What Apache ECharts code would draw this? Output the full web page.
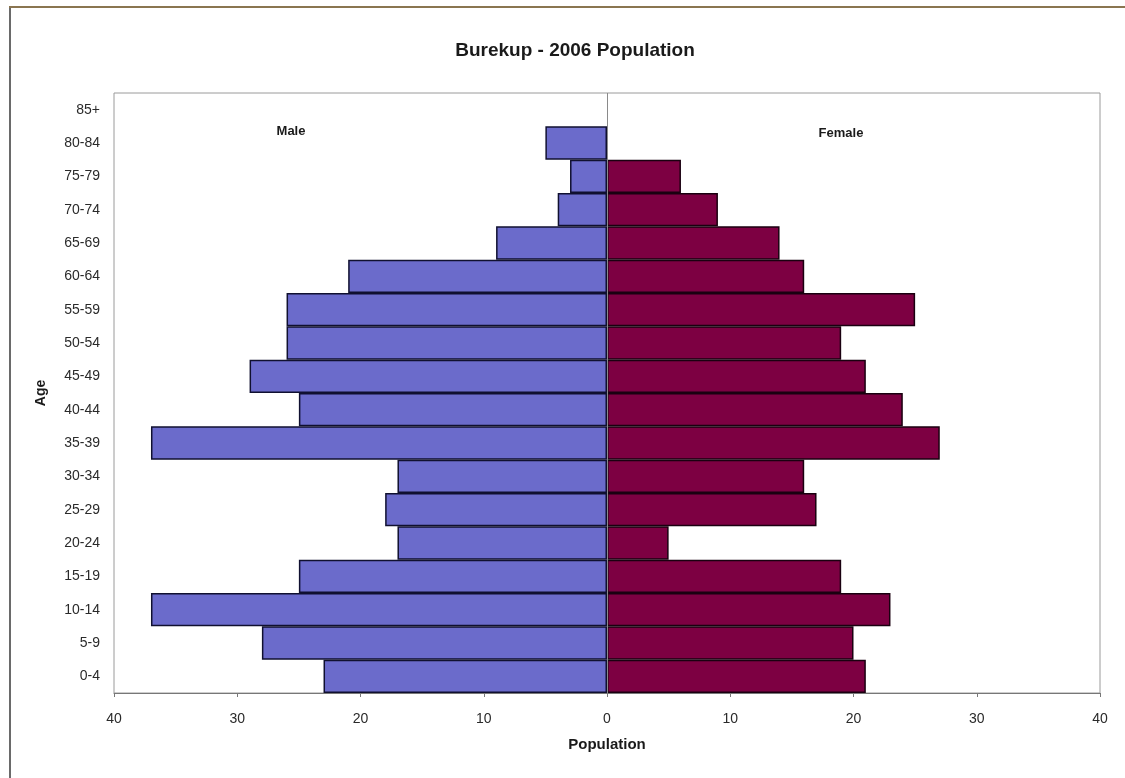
<!DOCTYPE html>
<html>
<head>
<meta charset="utf-8">
<script src="https://cdn.jsdelivr.net/npm/echarts@6/dist/echarts.min.js"></script>
<style>
  html, body { margin: 0; padding: 0; background: #ffffff; }
  #chart { width: 1125px; height: 778px; }
</style>
</head>
<body>
<div id="chart"></div>
<script>
// Age groups, bottom to top
const ageGroups = ['0-4', '5-9', '10-14', '15-19', '20-24', '25-29', '30-34', '35-39', '40-44',
                   '45-49', '50-54', '55-59', '60-64', '65-69', '70-74', '75-79', '80-84', '85+'];
// Persons per age group
const maleCounts   = [23, 28, 37, 25, 17, 18, 17, 37, 25, 29, 26, 26, 21, 9, 4, 3, 5, 0];
const femaleCounts = [21, 20, 23, 19, 5, 17, 16, 27, 24, 21, 19, 25, 16, 14, 9, 6, 0, 0];
// Population axis ticks
const popTicks = [-40, -30, -20, -10, 0, 10, 20, 30, 40];

const FONT = '"Liberation Sans", Arial, sans-serif';

// empty groups get no outline, so they leave no stray stroke on the zero line
const toBarData = (values, sign) =>
  values.map(v => (v === 0 ? { value: 0, itemStyle: { borderWidth: 0 } } : sign * v));

const chart = echarts.init(document.getElementById('chart'), null, { renderer: 'canvas' });

chart.setOption({
  animation: false,
  backgroundColor: '#ffffff',
  title: {
    text: 'Burekup - 2006 Population',
    left: 570,
    top: 36,
    textAlign: 'center',
    textStyle: { fontFamily: FONT, fontSize: 19, fontWeight: 'bold', color: '#1a1a1a' }
  },
  grid: {
    left: 114, right: 25, top: 93, bottom: 85,
    show: true, borderColor: '#9a9a9a', borderWidth: 1, backgroundColor: '#ffffff'
  },
  xAxis: {
    type: 'value',
    min: popTicks[0],
    max: popTicks[popTicks.length - 1],
    interval: 10,
    name: 'Population',
    nameLocation: 'middle',
    nameGap: 44,
    nameTextStyle: { fontFamily: FONT, fontSize: 15, fontWeight: 'bold', color: '#1a1a1a' },
    axisLine: { show: true, onZero: false, lineStyle: { color: '#777777', width: 1 } },
    axisTick: { show: true, length: 4, lineStyle: { color: '#777777' } },
    splitLine: { show: false },
    axisLabel: {
      margin: 19,
      fontFamily: FONT, fontSize: 14, color: '#2a2a2a',
      formatter: v => String(Math.abs(v))
    }
  },
  yAxis: {
    type: 'category',
    data: ageGroups,
    name: 'Age',
    nameLocation: 'middle',
    nameGap: 66,
    nameRotate: 90,
    nameTextStyle: { fontFamily: FONT, fontSize: 14, fontWeight: 'bold', color: '#1a1a1a' },
    axisLine: { show: false },
    axisTick: { show: false },
    axisLabel: { margin: 14, fontFamily: FONT, fontSize: 14, color: '#2a2a2a' }
  },
  series: [
    {
      name: 'Male',
      type: 'bar',
      stack: 'pop',
      barCategoryGap: 0,
      data: toBarData(maleCounts, -1),
      itemStyle: { color: '#6b6bcb', borderColor: '#101030', borderWidth: 1.5 },
      markLine: {
        silent: true,
        symbol: 'none',
        label: { show: false },
        lineStyle: { color: '#8a8a8a', width: 1, type: 'solid' },
        data: [{ xAxis: 0 }]
      }
    },
    {
      name: 'Female',
      type: 'bar',
      stack: 'pop',
      barCategoryGap: 0,
      data: toBarData(femaleCounts, 1),
      itemStyle: { color: '#7d0042', borderColor: '#1a0010', borderWidth: 1.5 }
    }
  ],
  graphic: [
    // outer chart frame (left and top edges)
    { type: 'line', shape: { x1: 10, y1: 7, x2: 10, y2: 778 }, style: { stroke: '#6a6a6a', lineWidth: 2 } },
    { type: 'line', shape: { x1: 9, y1: 7, x2: 1125, y2: 7 }, style: { stroke: '#8a7550', lineWidth: 2 } },
    {
      type: 'text',
      style: { x: 291, y: 131, text: 'Male', align: 'center', verticalAlign: 'middle',
               fontFamily: FONT, fontSize: 13, fontWeight: 'bold', fill: '#1a1a1a' }
    },
    {
      type: 'text',
      style: { x: 841, y: 133, text: 'Female', align: 'center', verticalAlign: 'middle',
               fontFamily: FONT, fontSize: 13, fontWeight: 'bold', fill: '#1a1a1a' }
    }
  ]
});
</script>
</body>
</html>
